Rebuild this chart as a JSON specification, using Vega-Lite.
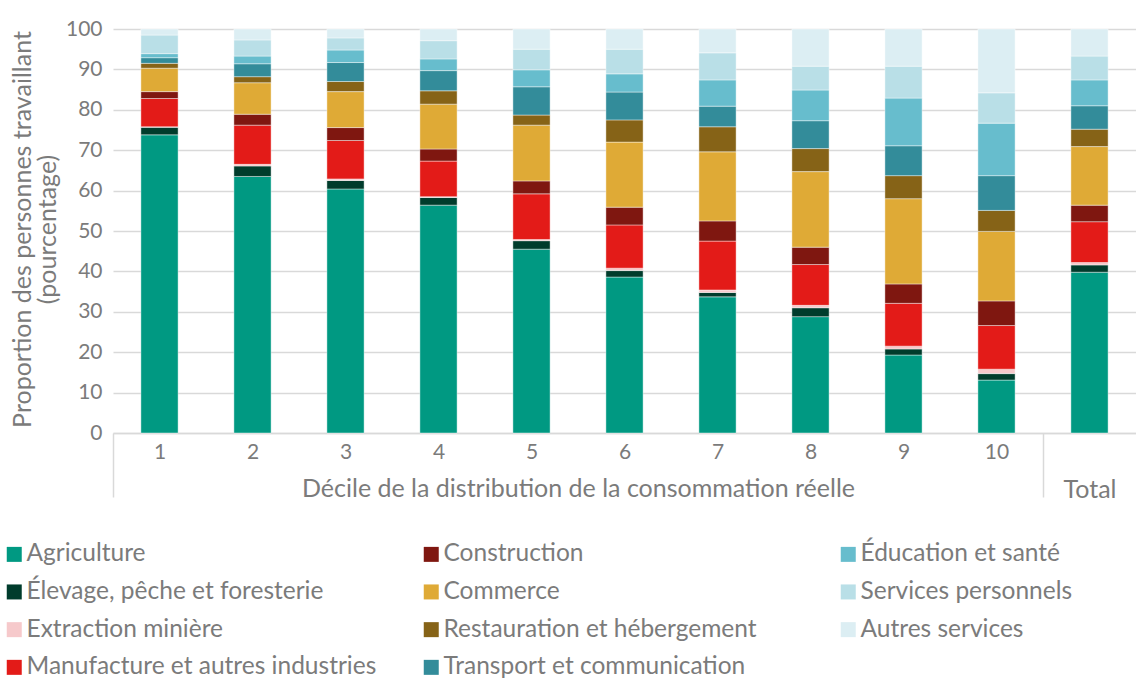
{
  "$schema": "https://vega.github.io/schema/vega-lite/v6.json",
  "width": 1023,
  "height": 404,
  "autosize": {"type": "none"},
  "padding": {"left": 113, "top": 29, "right": 0, "bottom": 247},
  "config": {"font": "Lato", "view": {"stroke": null}},
  "data": {
    "values": [
      {"decile": "1", "Agriculture": 73.8, "Élevage, pêche et foresterie": 1.9, "Extraction minière": 0.1, "Manufacture et autres industries": 7.0, "Construction": 1.7, "Commerce": 5.8, "Restauration et hébergement": 1.2, "Transport et communication": 1.4, "Éducation et santé": 1.0, "Services personnels": 4.6, "Autres services": 1.5},
      {"decile": "2", "Agriculture": 63.5, "Élevage, pêche et foresterie": 2.6, "Extraction minière": 0.4, "Manufacture et autres industries": 9.7, "Construction": 2.7, "Commerce": 7.8, "Restauration et hébergement": 1.5, "Transport et communication": 3.2, "Éducation et santé": 1.9, "Services personnels": 4.0, "Autres services": 2.7},
      {"decile": "3", "Agriculture": 60.4, "Élevage, pêche et foresterie": 2.1, "Extraction minière": 0.4, "Manufacture et autres industries": 9.5, "Construction": 3.2, "Commerce": 8.9, "Restauration et hébergement": 2.5, "Transport et communication": 4.7, "Éducation et santé": 3.1, "Services personnels": 3.0, "Autres services": 2.2},
      {"decile": "4", "Agriculture": 56.4, "Élevage, pêche et foresterie": 1.9, "Extraction minière": 0.2, "Manufacture et autres industries": 8.8, "Construction": 3.0, "Commerce": 11.1, "Restauration et hébergement": 3.3, "Transport et communication": 5.0, "Éducation et santé": 2.9, "Services personnels": 4.5, "Autres services": 2.9},
      {"decile": "5", "Agriculture": 45.5, "Élevage, pêche et foresterie": 2.1, "Extraction minière": 0.3, "Manufacture et autres industries": 11.3, "Construction": 3.2, "Commerce": 13.8, "Restauration et hébergement": 2.5, "Transport et communication": 7.0, "Éducation et santé": 4.2, "Services personnels": 5.1, "Autres services": 5.0},
      {"decile": "6", "Agriculture": 38.6, "Élevage, pêche et foresterie": 1.6, "Extraction minière": 0.6, "Manufacture et autres industries": 10.7, "Construction": 4.4, "Commerce": 16.1, "Restauration et hébergement": 5.5, "Transport et communication": 6.9, "Éducation et santé": 4.5, "Services personnels": 6.1, "Autres services": 5.0},
      {"decile": "7", "Agriculture": 33.7, "Élevage, pêche et foresterie": 1.1, "Extraction minière": 0.6, "Manufacture et autres industries": 12.1, "Construction": 5.0, "Commerce": 17.1, "Restauration et hébergement": 6.2, "Transport et communication": 5.1, "Éducation et santé": 6.5, "Services personnels": 6.7, "Autres services": 5.9},
      {"decile": "8", "Agriculture": 28.8, "Élevage, pêche et foresterie": 2.2, "Extraction minière": 0.6, "Manufacture et autres industries": 10.1, "Construction": 4.3, "Commerce": 18.7, "Restauration et hébergement": 5.7, "Transport et communication": 6.9, "Éducation et santé": 7.6, "Services personnels": 5.9, "Autres services": 9.2},
      {"decile": "9", "Agriculture": 19.3, "Élevage, pêche et foresterie": 1.5, "Extraction minière": 0.7, "Manufacture et autres industries": 10.6, "Construction": 4.8, "Commerce": 21.1, "Restauration et hébergement": 5.7, "Transport et communication": 7.4, "Éducation et santé": 11.8, "Services personnels": 7.9, "Autres services": 9.2},
      {"decile": "10", "Agriculture": 13.1, "Élevage, pêche et foresterie": 1.6, "Extraction minière": 1.1, "Manufacture et autres industries": 10.8, "Construction": 6.1, "Commerce": 17.2, "Restauration et hébergement": 5.2, "Transport et communication": 8.6, "Éducation et santé": 13.0, "Services personnels": 7.5, "Autres services": 15.8},
      {"decile": "Total", "Agriculture": 39.8, "Élevage, pêche et foresterie": 1.8, "Extraction minière": 0.6, "Manufacture et autres industries": 10.1, "Construction": 4.1, "Commerce": 14.5, "Restauration et hébergement": 4.3, "Transport et communication": 5.8, "Éducation et santé": 6.4, "Services personnels": 5.9, "Autres services": 6.7}
    ]
  },
  "transform": [
    {"fold": ["Agriculture", "Élevage, pêche et foresterie", "Extraction minière", "Manufacture et autres industries", "Construction", "Commerce", "Restauration et hébergement", "Transport et communication", "Éducation et santé", "Services personnels", "Autres services"], "as": ["secteur", "part"]},
    {"calculate": "indexof(['Agriculture', 'Élevage, pêche et foresterie', 'Extraction minière', 'Manufacture et autres industries', 'Construction', 'Commerce', 'Restauration et hébergement', 'Transport et communication', 'Éducation et santé', 'Services personnels', 'Autres services'], datum.secteur)", "as": "ordre"}
  ],
  "mark": {"type": "bar", "width": {"band": 0.4}, "stroke": "white", "strokeWidth": 0.6, "strokeOpacity": 0.7},
  "encoding": {
    "x": {
      "field": "decile",
      "type": "nominal",
      "sort": null,
      "scale": {"paddingInner": 0, "paddingOuter": 0},
      "axis": {
        "title": "Décile de la distribution de la consommation réelle",
        "titleFontSize": 25,
        "titleFontWeight": "normal",
        "titleColor": "#7b7b7b",
        "titleX": 465,
        "titleY": 55,
        "titleBaseline": "middle",
        "labelAngle": 0,
        "labelFontSize": {"condition": {"test": "datum.value == 'Total'", "value": 25}, "value": 21},
        "labelColor": "#7b7b7b",
        "labelPadding": -56,
        "labelLineHeight": 36,
        "labelExpr": "datum.value == 'Total' ? ['', 'Total'] : datum.label",
        "domainColor": "#d9d9d9",
        "domainWidth": 1.5,
        "tickBand": "extent",
        "tickSize": 64,
        "tickColor": "#d9d9d9",
        "tickWidth": 1.5,
        "tickOpacity": {"condition": {"test": "datum.value == '10' || datum.extra", "value": 1}, "value": 0}
      }
    },
    "y": {
      "field": "part",
      "type": "quantitative",
      "stack": "zero",
      "scale": {"domain": [0, 100], "nice": false},
      "axis": {
        "title": ["Proportion des personnes travaillant", "(pourcentage)"],
        "titleFontSize": 25,
        "titleFontWeight": "normal",
        "titleColor": "#7b7b7b",
        "titleLineHeight": 25,
        "titleX": -91,
        "titleY": 200,
        "titleBaseline": "middle",
        "titleAlign": "center",
        "values": [0, 10, 20, 30, 40, 50, 60, 70, 80, 90, 100],
        "labelFontSize": 21,
        "labelColor": "#7b7b7b",
        "labelPadding": 11,
        "domain": false,
        "ticks": false,
        "grid": true,
        "gridColor": "#d9d9d9",
        "gridWidth": 1.5
      }
    },
    "color": {
      "field": "secteur",
      "type": "nominal",
      "scale": {
        "domain": ["Agriculture", "Élevage, pêche et foresterie", "Extraction minière", "Manufacture et autres industries", "Construction", "Commerce", "Restauration et hébergement", "Transport et communication", "Éducation et santé", "Services personnels", "Autres services"],
        "range": ["#009982", "#003c2c", "#f6c9cb", "#e31b18", "#7f1710", "#dfaa36", "#866317", "#338c9a", "#67bdcd", "#b9dfe7", "#dceef3"]
      },
      "legend": {
        "orient": "none",
        "legendX": -111,
        "legendY": 513,
        "title": null,
        "columns": 3,
        "direction": "vertical",
        "gridAlign": "all",
        "columnPadding": 42,
        "rowPadding": 12.7,
        "symbolType": "square",
        "symbolSize": 225,
        "symbolStrokeWidth": 0,
        "labelFontSize": 24.5,
        "labelColor": "#7b7b7b",
        "labelOffset": 0,
        "labelLimit": 500
      }
    },
    "order": {"field": "ordre"}
  }
}
